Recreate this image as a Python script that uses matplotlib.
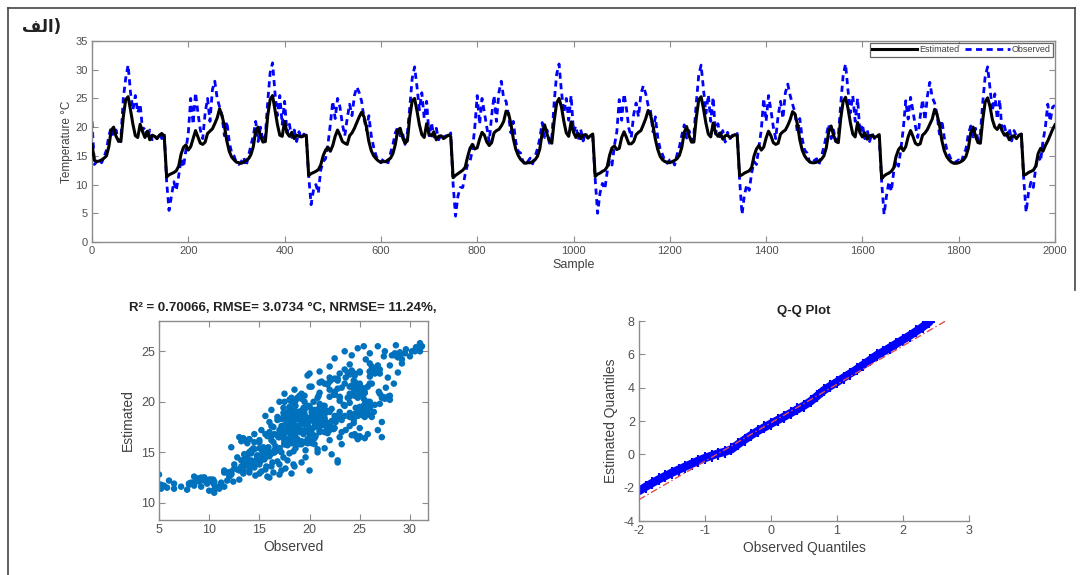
import matplotlib
matplotlib.use("Agg")
import matplotlib.pyplot as plt
from matplotlib.lines import Line2D

plt.rcParams['font.family'] = ['Liberation Sans', 'DejaVu Sans']
plt.rcParams['axes.unicode_minus'] = False

# ---------------- data ----------------
sample = list(range(0, 2001, 5))

estimated = [
    # samples 0-150
    17.0,14.2,14.0,14.1,14.3,14.6,15.0,16.6,19.5,20.0,18.4,17.6,17.5,21.8,24.8,25.3,23.0,20.5,18.5,18.2,
    20.5,19.2,18.2,19.3,17.8,18.6,18.4,18.0,18.6,18.9,18.4,
    # samples 155-445
    11.3,11.7,11.9,12.1,12.4,13.2,15.3,16.5,16.9,16.0,16.6,18.0,19.4,18.3,17.2,17.0,17.4,18.9,19.3,19.7,
    20.6,21.6,23.2,22.0,20.2,17.6,15.8,14.8,14.3,13.9,13.8,13.7,13.9,14.2,14.5,15.2,16.6,19.4,20.0,18.4,
    17.4,17.5,22.0,24.8,25.5,23.0,20.5,18.6,18.4,21.0,19.0,18.4,19.1,18.0,18.6,18.4,18.3,18.5,18.6,
    # samples 450-745
    11.6,11.9,12.1,12.3,12.6,13.4,15.0,16.0,16.5,15.8,16.8,18.4,19.5,18.6,17.5,17.2,17.0,18.5,19.0,19.8,
    20.8,21.8,22.6,21.8,20.0,17.5,15.9,15.0,14.5,14.1,13.9,14.0,14.0,14.3,14.6,15.4,17.0,19.5,19.8,18.2,
    17.2,17.6,21.8,24.6,25.0,22.8,20.4,18.7,18.2,20.6,18.8,18.5,19.2,17.8,18.4,18.5,18.0,18.3,18.6,18.4,
    # samples 750-1040
    11.2,11.6,11.9,12.2,12.5,13.0,14.8,16.3,17.0,16.2,16.4,17.9,19.1,18.6,17.4,16.8,17.3,19.0,19.4,19.6,
    20.2,21.0,22.8,22.4,20.6,18.0,16.2,15.1,14.4,14.0,13.7,13.8,13.8,14.0,14.3,14.9,16.2,19.0,20.4,18.8,
    17.6,17.2,21.2,24.2,25.0,23.5,21.0,19.0,18.4,20.9,19.1,18.2,18.9,18.0,18.6,18.7,18.1,18.5,18.8,
    # samples 1045-1340
    11.4,11.8,12.0,12.3,12.5,13.1,15.1,16.4,16.7,16.1,16.3,18.2,19.2,18.2,17.1,17.1,17.5,18.7,19.1,19.4,
    20.4,21.5,22.9,22.1,20.3,17.9,16.1,14.9,14.3,14.0,13.9,13.8,14.0,14.2,14.5,15.1,16.5,19.1,20.1,18.5,
    17.4,17.4,21.6,24.7,25.3,23.2,20.7,18.8,18.3,20.7,19.0,18.4,19.0,17.9,18.5,18.6,18.2,18.4,18.7,18.5,
    # samples 1345-1635
    11.5,11.7,12.0,12.2,12.4,13.0,15.0,16.2,16.8,16.0,16.5,18.1,19.3,18.5,17.3,17.0,17.2,18.8,19.2,19.5,
    20.3,21.3,22.7,22.3,20.5,17.8,16.0,15.0,14.4,14.0,13.8,13.8,13.9,14.1,14.4,15.0,16.4,19.2,20.2,18.6,
    17.5,17.3,21.5,24.5,25.2,23.3,20.8,18.8,18.3,20.8,19.0,18.3,19.0,17.9,18.5,18.6,18.2,18.4,18.7,
    # samples 1640-1930
    11.0,11.5,11.8,12.0,12.3,12.9,14.9,16.1,16.6,15.9,16.6,18.3,19.4,18.4,17.2,16.9,17.1,18.6,19.0,19.6,
    20.5,21.4,23.1,22.2,20.4,17.7,15.9,14.9,14.3,13.9,13.7,13.7,13.8,14.0,14.3,14.9,16.3,19.0,20.0,18.4,
    17.3,17.2,21.3,24.4,25.1,23.6,21.3,20.0,19.6,20.4,19.4,18.6,18.9,17.8,18.4,18.5,18.0,18.6,18.8,
    # samples 1935-2000
    11.6,11.8,12.1,12.3,12.5,13.2,15.4,16.3,15.8,16.8,17.6,18.6,19.6,20.4,
]

observed = [
    # samples 0-150
    21.0,13.5,14.0,14.5,13.8,14.8,16.0,18.5,20.0,18.5,19.5,17.5,18.0,25.0,28.5,30.8,26.0,23.0,25.5,22.5,
    24.0,19.5,20.0,18.0,19.5,17.8,18.5,18.0,18.8,18.0,19.0,
    # samples 155-445
    10.5,5.5,8.0,10.5,9.0,11.5,14.5,13.0,16.0,19.0,25.0,20.5,26.0,22.5,19.5,18.0,22.5,25.0,21.0,26.5,
    28.0,25.0,23.5,22.0,18.5,21.0,17.5,15.5,15.0,13.8,13.5,14.0,14.8,13.2,15.0,16.8,18.5,21.0,17.5,20.0,
    17.5,18.5,24.5,29.5,31.2,26.0,22.0,25.5,20.5,24.5,19.0,20.5,18.2,19.5,17.5,19.2,18.0,18.8,18.3,
    # samples 450-745
    11.5,6.5,9.0,10.0,8.5,12.5,14.0,14.5,17.0,20.5,24.5,21.5,25.0,23.5,20.5,18.5,21.5,24.0,22.0,25.5,
    27.0,26.0,24.5,21.5,19.5,22.0,18.5,16.5,15.0,14.2,13.8,14.5,14.0,13.8,15.5,17.0,19.0,20.0,18.5,19.0,
    17.0,19.0,23.5,28.5,30.5,27.0,23.0,26.0,21.5,24.5,18.5,20.8,18.3,19.8,17.8,18.8,18.2,18.5,18.0,19.0,
    # samples 750-1040
    10.0,4.5,8.0,9.5,9.5,11.8,13.5,14.0,16.0,20.0,25.5,20.5,25.0,22.5,20.0,17.5,22.0,25.5,21.0,26.0,
    28.0,25.0,24.5,22.0,19.0,21.0,17.5,15.8,15.5,14.0,13.4,14.0,14.6,13.6,14.8,16.2,18.0,20.8,18.2,19.5,
    17.2,18.2,24.5,29.2,31.0,26.2,22.5,25.0,21.2,25.5,19.2,20.2,17.8,19.6,17.6,19.0,18.1,18.6,18.4,
    # samples 1045-1340
    11.0,5.0,8.5,10.2,9.2,12.2,14.2,13.4,16.8,19.2,24.8,21.2,25.8,23.2,19.8,18.2,22.2,24.2,21.8,25.8,
    27.2,25.8,23.8,22.8,19.2,21.8,18.2,16.2,15.2,14.1,13.7,14.3,14.4,13.4,15.2,16.6,18.6,20.4,18.1,19.4,
    17.6,18.6,24.2,29.0,30.8,26.6,22.4,25.6,21.0,25.2,18.8,20.6,18.1,19.4,17.4,19.1,18.0,18.6,18.2,18.9,
    # samples 1345-1635
    10.8,4.8,8.2,10.0,9.0,12.0,14.0,13.5,16.5,19.5,25.0,21.0,25.5,23.0,20.0,18.0,22.0,24.5,21.5,26.0,
    27.5,25.5,24.0,22.5,19.0,21.5,18.0,16.0,15.5,14.0,13.6,14.2,14.5,13.5,15.0,16.5,18.5,20.5,18.0,19.5,
    17.5,18.5,24.0,29.0,31.0,26.5,22.5,25.5,21.0,25.0,19.0,20.5,18.0,19.5,17.5,19.0,18.0,18.7,18.2,
    # samples 1640-1930
    10.5,4.8,8.0,10.5,8.8,12.2,14.2,13.2,16.2,19.8,24.6,21.4,25.2,22.8,20.2,18.2,21.8,24.8,21.2,25.4,
    27.8,25.2,24.2,22.2,18.8,21.2,18.2,16.2,15.2,14.2,13.8,14.0,14.3,13.8,15.2,16.2,18.8,20.2,18.3,19.8,
    17.8,18.8,24.4,28.8,30.5,26.8,22.8,25.8,21.4,24.8,19.4,20.2,18.4,19.8,17.6,19.4,18.4,18.4,18.8,
    # samples 1935-2000
    11.0,5.2,8.6,10.4,9.5,13.0,15.0,14.0,17.5,20.0,24.0,21.0,23.5,23.8,
]

cloud_obs = [
    5.2,5.8,6.5,7.2,7.8,8.5,9.2,9.8,10.5,11.2,11.8,12.4,13.0,5.0,6.0,8.8,10.0,12.0,
    11.5,12.2,12.8,13.4,14.0,14.6,15.2,15.8,16.4,17.0,17.6,18.2,12.5,13.2,13.9,14.5,15.1,15.7,16.3,17.0,
    17.8,18.5,19.2,20.0,
    12.8,13.5,14.2,14.8,15.4,16.0,16.6,17.2,17.8,18.4,19.0,19.6,20.2,20.8,21.5,22.2,13.8,15.0,16.2,17.5,
    18.8,20.5,22.8,23.2,
    14.5,15.2,15.8,16.4,17.0,17.6,18.2,18.8,19.4,20.0,20.6,21.2,21.8,22.4,23.0,23.6,24.2,25.0,25.8,26.8,
    16.0,17.2,19.6,22.6,24.4,27.2,
    15.6,16.2,16.8,17.4,18.0,18.6,19.2,19.8,20.4,21.0,21.6,22.2,22.8,23.4,24.0,24.6,25.2,25.8,26.4,27.0,
    17.0,18.6,20.8,23.0,25.4,27.3,
    17.5,18.5,19.5,20.2,21.0,21.8,22.5,23.2,24.0,24.8,25.5,26.2,26.9,27.6,19.8,21.2,22.8,24.4,26.0,27.8,
    28.4,
    21.0,22.0,23.0,24.0,25.0,26.0,27.0,28.0,28.8,22.5,24.2,25.6,27.4,29.2,
    23.5,24.8,26.0,26.8,27.5,28.2,29.0,29.6,30.2,30.6,31.0,30.0,28.6,25.4,
    12.2,20.0,22.8,27.2,26.2,
    14.0,14.5,15.0,15.5,16.0,16.5,17.0,17.5,18.0,18.5,19.0,19.5,20.0,20.5,21.0,21.5,
    14.2,14.8,15.3,15.9,16.4,16.9,17.4,17.9,18.4,18.9,19.4,19.9,20.4,20.9,
    15.0,15.6,16.2,16.8,17.4,18.0,18.6,19.2,19.8,20.4,21.0,21.6,22.2,22.8,
    13.4,13.8,14.4,15.0,15.6,16.2,16.8,17.4,18.0,18.6,19.2,
    16.0,17.2,18.4,19.6,20.8,22.0,23.2,24.4,25.4,
    20.0,21.0,22.0,23.0,24.0,25.0,26.0,26.5,25.0,23.6,
]
cloud_est = [
    11.4,11.5,11.4,11.6,11.3,11.7,11.6,11.9,11.8,12.0,12.2,12.1,12.3,12.8,12.2,12.4,12.1,12.6,
    13.0,12.8,13.3,12.9,13.2,12.7,13.1,12.6,13.0,12.8,13.4,12.9,13.8,13.6,14.0,13.7,14.1,13.6,14.0,13.8,
    14.2,13.6,14.0,13.2,
    14.5,14.8,15.2,14.6,15.5,14.9,15.6,15.0,15.7,15.1,15.8,15.2,15.9,15.0,15.4,14.8,15.9,16.0,16.2,16.3,
    16.0,16.4,14.2,15.8,
    16.8,17.2,16.6,17.5,16.9,17.8,17.1,17.6,16.8,17.4,16.6,17.7,16.9,17.3,16.5,17.2,16.7,17.4,16.8,17.2,
    18.0,18.3,18.1,18.0,18.2,18.0,
    18.6,19.2,18.5,19.4,18.8,19.6,18.9,19.5,18.7,19.8,18.9,19.3,18.6,19.7,18.9,19.4,18.7,19.6,19.0,19.8,
    20.0,20.2,20.4,20.1,20.3,20.5,
    20.8,21.2,20.6,21.5,20.9,21.7,20.7,21.4,20.8,21.6,20.9,21.8,21.0,21.4,22.6,22.0,22.3,22.1,22.5,22.4,
    21.8,
    23.0,23.5,22.8,23.7,23.0,23.8,23.2,23.6,22.9,24.3,24.6,24.2,24.5,23.8,
    25.0,25.3,24.8,25.5,25.0,24.6,24.9,25.2,25.0,25.4,25.8,24.5,25.6,25.5,
    15.5,22.8,14.0,16.5,18.5,
    13.0,13.5,13.8,14.3,14.6,15.2,15.4,16.0,16.4,16.9,17.3,17.9,18.2,18.7,19.1,19.6,
    14.2,14.7,15.0,15.5,16.0,16.5,17.0,17.5,18.0,18.4,19.0,19.6,20.0,20.6,
    12.9,13.3,13.6,14.1,14.5,14.9,15.4,15.8,16.3,16.7,17.2,17.6,18.1,18.6,
    13.3,14.6,15.4,16.2,16.8,17.6,18.2,18.9,19.5,20.1,20.8,
    12.5,13.2,13.8,14.5,15.3,16.2,17.0,17.9,18.6,
    21.5,21.9,21.2,19.0,19.9,20.7,20.0,22.8,22.9,22.4,
]

qq_obs = [-2.0,-1.9,-1.8,-1.7,-1.6,-1.5,-1.4,-1.3,-1.2,-1.1,-1.0,-0.9,-0.8,-0.7,-0.6,-0.5,-0.4,-0.3,
          -0.2,-0.1,0.0,0.1,0.2,0.3,0.4,0.5,0.6,0.7,0.8,0.9,1.0,1.1,1.2,1.3,1.4,1.5,1.6,1.7,1.8,
          1.9,2.0,2.1,2.2,2.3,2.4]
qq_est = [-2.2,-1.95,-1.72,-1.5,-1.3,-1.1,-0.92,-0.74,-0.56,-0.38,-0.22,-0.08,0.05,0.15,0.3,0.6,
          0.88,1.15,1.4,1.62,1.84,2.05,2.26,2.48,2.7,2.92,3.18,3.5,3.84,4.1,4.34,4.6,4.85,5.1,5.38,
          5.65,5.94,6.16,6.4,6.64,6.88,7.12,7.38,7.65,7.95]
qq_ref_x = [-2.0, 2.68]
qq_ref_y = [-2.72, 8.08]

title_text = "\uFED2\uFEDF\u0627)"
scatter_title = "R\u00b2 = 0.70066, RMSE= 3.0734 \u00b0C, NRMSE= 11.24%,"

# ---------------- figure ----------------
W, H = 1082, 575
fig = plt.figure(figsize=(W / 100, H / 100), dpi=100)

def rect(l, t, r, b):
    return [l / W, 1 - b / H, (r - l) / W, (b - t) / H]

spine_c = '#8c8c8c'
tick_c = '#505050'

def style(ax, box=True, fs=8):
    for s in ax.spines.values():
        s.set_color(spine_c)
        s.set_linewidth(1.0)
    if not box:
        ax.spines['top'].set_visible(False)
        ax.spines['right'].set_visible(False)
    ax.tick_params(direction='in', length=4, width=0.8, colors=spine_c,
                   labelcolor=tick_c, labelsize=fs, top=box, right=box, pad=3)

# outer frame
fig.add_artist(Line2D([8 / W, 1075 / W], [1 - 8 / H, 1 - 8 / H], color='#444444', lw=1.2))
fig.add_artist(Line2D([8 / W, 8 / W], [1 - 8 / H, 0], color='#444444', lw=1.2))
fig.add_artist(Line2D([1075 / W, 1075 / W], [1 - 8 / H, 1 - 290 / H], color='#444444', lw=1.2))

fig.text(22 / W, 1 - 27 / H, title_text, family=['DejaVu Sans'], fontweight='bold',
         fontsize=12, ha='left', va='center', color='#222222')

# ---- top time series ----
ax1 = fig.add_axes(rect(92, 41, 1055, 242))
ax1.plot(sample, observed, color='#0000ff', lw=2.0, ls=(0, (2.2, 1.6)), label='Observed', zorder=2)
ax1.plot(sample, estimated, color='black', lw=2.2, label='Estimated', zorder=3)
ax1.set_xlim(0, 2000)
ax1.set_ylim(0, 35)
ax1.set_xticks(range(0, 2001, 200))
ax1.set_yticks(range(0, 36, 5))
style(ax1, fs=8)
ax1.set_xlabel('Sample', fontsize=9, color='#404040', labelpad=2)
ax1.set_ylabel('Temperature \u00b0C', fontsize=8.5, color='#404040', labelpad=2)
h, l = ax1.get_legend_handles_labels()
leg = ax1.legend([h[1], h[0]], [l[1], l[0]], ncol=2, loc='upper right', fontsize=6.5,
                 frameon=True, fancybox=False, edgecolor='#404040', handlelength=5,
                 columnspacing=0.6, handletextpad=0.2, borderpad=0.25,
                 bbox_to_anchor=(0.998, 0.99), borderaxespad=0.0)
leg.get_frame().set_linewidth(0.9)
for t in leg.get_texts():
    t.set_color('#404040')

# ---- scatter ----
ax2 = fig.add_axes(rect(159, 321, 428, 520))
ax2.scatter(observed, estimated, s=22, color='#0072bd', edgecolors='none', zorder=2)
ax2.scatter(cloud_obs, cloud_est, s=22, color='#0072bd', edgecolors='none', zorder=2)
ax2.set_xlim(5, 31.8)
ax2.set_ylim(8.3, 28)
ax2.set_xticks(range(5, 31, 5))
ax2.set_yticks(range(10, 26, 5))
style(ax2, fs=9)
ax2.set_xlabel('Observed', fontsize=10, color='#404040', labelpad=3)
ax2.set_ylabel('Estimated', fontsize=10, color='#404040', labelpad=4)
fig.text(283 / W, 1 - 308 / H, scatter_title, fontsize=9.5, fontweight='bold',
         ha='center', va='center', color='#222222')

# ---- Q-Q plot ----
ax3 = fig.add_axes(rect(639, 321, 969, 521))
ax3.plot(qq_ref_x, qq_ref_y, color='#e05050', lw=1.0, ls=(0, (5, 2, 1, 2)), zorder=3)
ax3.plot(qq_obs, qq_est, color='#0000ff', lw=6, solid_capstyle='round', zorder=2)
ax3.plot(qq_obs, qq_est, color='#0000ff', ls='none', marker='+', ms=8, mew=1.5, zorder=2)
ax3.set_xlim(-2, 3)
ax3.set_ylim(-4, 8)
ax3.set_xticks(range(-2, 4))
ax3.set_yticks(range(-4, 9, 2))
style(ax3, box=False, fs=9)
ax3.set_xlabel('Observed Quantiles', fontsize=10, color='#404040', labelpad=3)
ax3.set_ylabel('Estimated Quantiles', fontsize=10, color='#404040', labelpad=4)
ax3.set_title('Q-Q Plot', fontsize=9.5, fontweight='bold', color='#222222', pad=5)

fig.savefig('out.png', dpi=100)
